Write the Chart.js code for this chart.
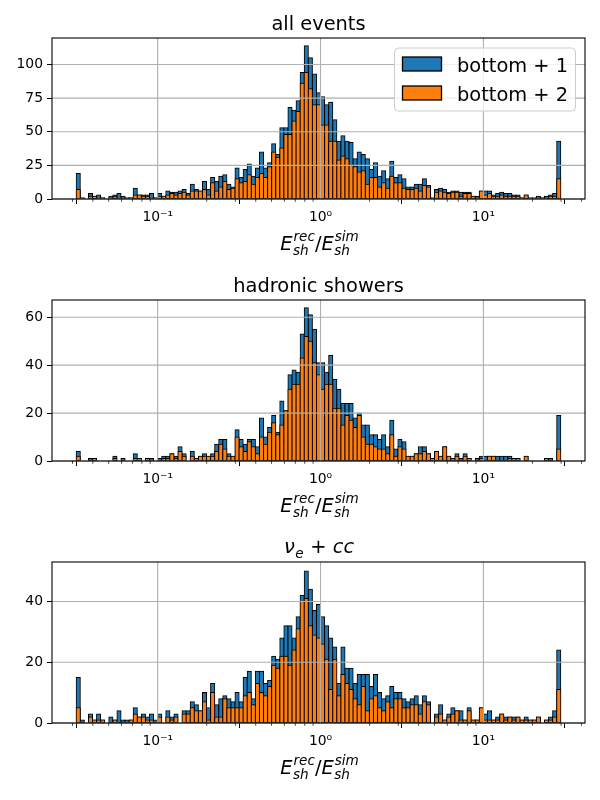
<!DOCTYPE html>
<html lang="en">
<head>
<meta charset="UTF-8">
<title>Shower energy ratio histograms</title>
<script src="https://cdn.jsdelivr.net/npm/chart.js@4.4.0/dist/chart.umd.min.js"></script>
<style>
  body { margin: 0; background: #fff; }
  #wrap { position: relative; width: 600px; height: 800px; }
  canvas { position: absolute; left: 0; }
</style>
</head>
<body>
<div id="wrap">
  <canvas id="allEvents" width="600" height="262" style="top:0"></canvas>
  <canvas id="hadronic" width="600" height="262" style="top:262px"></canvas>
  <canvas id="nueCC" width="600" height="262" style="top:524px"></canvas>
</div>
<script>
// binning of the histograms: log10 bin edges start at -1.5, step 0.025 (119 bins)
const logStart = -1.5;
const logStep = 0.025;
const seriesNames = ['bottom + 1', 'bottom + 2'];
const xTickValues = [-1, 0, 1];          // log10 of 0.1, 1, 10
const xTickLabels = ['10\u207B\u00B9', '10\u2070', '10\u00B9'];

// "all events"
const allBottom1 = [19,1,0,4,2,3,1,0,2,3, 4,2,1,1,8,3,3,3,4,1, 4,2,6,5,5,6,7,4,11,7,
  6,13,7,16,13,17,18,11,9,23, 16,22,26,17,23,35,23,27,41,33, 53,53,68,66,73,94,114,105,93,79,
  76,70,72,59,43,47,43,42,30,35, 33,30,22,27,17,21,15,28,16,18, 15,9,9,11,11,15,10,1,7,8,
  7,5,6,6,5,5,5,2,2,6, 6,6,3,4,5,4,4,3,3,1, 3,1,1,2,1,2,3,4,43];
const allBottom2 = [7,0,0,2,2,1,1,0,1,2, 1,1,0,1,3,3,2,2,1,1, 2,2,3,4,3,4,5,3,6,6,
  6,7,3,12,6,9,13,7,8,15, 12,13,18,11,16,19,16,24,35,31, 38,48,48,58,65,86,94,82,70,70,
  55,55,43,43,29,32,30,25,24,20, 21,11,16,16,9,12,8,17,12,12, 8,7,7,8,6,10,9,0,5,6,
  5,4,5,5,2,4,4,2,1,6, 3,4,2,2,3,2,2,2,2,1, 3,0,0,1,1,1,2,2,15];

// "hadronic showers"
const hadronicBottom1 = [4,0,0,1,1,0,0,0,0,2, 0,1,0,0,3,1,0,1,1,0, 1,2,2,3,2,6,3,0,4,1,
  2,3,2,3,7,9,9,3,2,13, 9,7,9,9,6,18,10,14,19,12, 25,21,36,38,37,53,64,61,55,41,
  41,37,44,34,30,24,24,24,18,20, 15,15,11,11,9,11,6,17,5,9, 8,2,2,3,6,6,3,1,4,2,
  6,2,1,3,1,3,1,0,1,2, 2,2,2,2,2,2,2,1,1,0, 2,0,0,0,0,1,1,0,19];
const hadronicBottom2 = [2,0,0,0,1,0,0,0,0,1, 0,0,0,0,1,1,0,1,0,0, 0,1,1,3,1,4,2,0,2,1,
  2,2,2,2,4,7,5,2,2,10, 6,4,8,6,3,10,7,12,16,11, 15,21,30,32,32,43,52,50,41,36,
  30,32,32,22,22,15,19,17,14,19, 10,7,7,6,5,5,3,11,2,6, 5,2,2,3,3,4,3,1,4,2,
  6,2,1,2,0,2,1,0,0,1, 0,2,2,0,0,0,1,1,1,0, 2,0,0,0,0,1,0,0,5];

// "nu_e + cc"
const nueBottom1 = [15,1,0,3,1,3,1,0,2,1, 4,1,1,1,5,2,3,2,3,1, 3,0,4,2,3,0,4,4,7,6,
  4,10,5,13,6,8,9,8,7,10, 7,15,17,8,17,17,13,14,22,21, 28,32,32,28,35,42,50,44,37,39,
  35,32,28,25,13,25,18,18,13,16, 16,16,12,16,10,8,9,12,10,10, 8,7,8,9,6,9,7,0,3,6,
  1,3,5,4,4,1,5,1,1,5, 3,4,1,2,3,2,2,2,2,1, 2,1,1,2,0,1,2,4,24];
const nueBottom2 = [5,0,0,2,1,1,1,0,0,1, 0,0,0,1,3,2,2,1,1,0, 2,0,2,1,2,0,3,3,5,4,
  4,7,1,10,2,2,8,5,5,5, 5,9,10,6,13,10,9,12,19,18, 22,22,19,24,31,40,41,32,29,28,
  26,21,11,21,9,16,13,11,8,6, 12,4,8,9,5,4,7,5,8,8, 5,5,6,6,3,7,6,0,2,3,
  1,2,3,4,1,1,4,1,1,5, 1,1,1,1,3,1,2,1,2,1, 1,1,1,2,0,1,1,2,11];

const binCenters = allBottom1.map((_, i) => logStart + logStep * (i + 0.5));

const FONT = "'DejaVu Sans', sans-serif";
Chart.defaults.font.family = FONT;
Chart.defaults.color = '#000';

// draws a small piece of matplotlib-like math text centred on cx
function drawMath(ctx, pieces, cx, base, size) {
  const small = size * 0.7;
  const fontOf = (s, it) => (it ? 'italic ' : '') + s + 'px ' + FONT;
  const widths = pieces.map(p => {
    ctx.font = fontOf(size, p.italic);
    const w = ctx.measureText(p.t).width;
    ctx.font = fontOf(small, true);
    const ws = Math.max(p.sub ? ctx.measureText(p.sub).width : 0,
                        p.sup ? ctx.measureText(p.sup).width : 0);
    return [w, ws];
  });
  let xx = cx - widths.reduce((s, w) => s + w[0] + w[1], 0) / 2;
  ctx.fillStyle = '#000';
  ctx.textAlign = 'left';
  ctx.textBaseline = 'alphabetic';
  pieces.forEach((p, i) => {
    ctx.font = fontOf(size, p.italic);
    ctx.fillText(p.t, xx, base);
    xx += widths[i][0];
    ctx.font = fontOf(small, true);
    if (p.sub) ctx.fillText(p.sub, xx + 0.5, base + size * 0.25);
    if (p.sup) ctx.fillText(p.sup, xx + 1, base - size * 0.45);
    xx += widths[i][1] + (widths[i][1] ? 1 : 0);
  });
}

const xLabel = [
  { t: 'E', italic: true, sub: 'sh', sup: 'rec' },
  { t: '/', italic: false },
  { t: 'E', italic: true, sub: 'sh', sup: 'sim' }
];

const mplDecor = {
  id: 'mplDecor',
  afterDatasetsDraw(chart, args, opts) {
    const { ctx, chartArea: a, scales: { x, y } } = chart;
    ctx.save();

    // grid lines sit above the bars like in matplotlib
    ctx.strokeStyle = '#b0b0b0';
    ctx.lineWidth = 1.1;
    ctx.beginPath();
    xTickValues.forEach(v => {
      const px = x.getPixelForValue(v);
      ctx.moveTo(px, a.top); ctx.lineTo(px, a.bottom);
    });
    opts.yTicks.forEach(v => {
      const py = y.getPixelForValue(v);
      ctx.moveTo(a.left, py); ctx.lineTo(a.right, py);
    });
    ctx.stroke();

    // minor ticks of the log axis
    ctx.strokeStyle = '#000';
    ctx.lineWidth = 0.7;
    ctx.beginPath();
    for (let n = -2; n <= 1; n++) {
      for (let k = 2; k <= 9; k++) {
        const v = n + Math.log10(k);
        if (v < x.min || v > x.max) continue;
        const px = x.getPixelForValue(v);
        ctx.moveTo(px, a.bottom); ctx.lineTo(px, a.bottom + 2.8);
      }
    }
    ctx.stroke();

    // spines
    ctx.lineWidth = 1.1;
    ctx.strokeRect(a.left, a.top, a.right - a.left, a.bottom - a.top);

    // title
    const cx = (a.left + a.right) / 2;
    if (opts.titleMath) {
      drawMath(ctx, opts.titleMath, cx, a.top - 9, 19.4);
    } else {
      ctx.font = '19.4px ' + FONT;
      ctx.fillStyle = '#000';
      ctx.textAlign = 'center';
      ctx.textBaseline = 'alphabetic';
      ctx.fillText(opts.title, cx, a.top - 8.5);
    }

    // x label
    drawMath(ctx, xLabel, cx, a.bottom + 51, 19.4);

    // legend
    if (opts.legend) {
      const lx = 394.5, ly = 48, lw = 181, lh = 63;
      ctx.beginPath();
      ctx.roundRect(lx, ly, lw, lh, 4);
      ctx.fillStyle = 'rgba(255,255,255,0.8)';
      ctx.fill();
      ctx.strokeStyle = '#cccccc';
      ctx.lineWidth = 1;
      ctx.stroke();
      chart.data.datasets.forEach((ds, i) => {
        const py = 57 + i * 29;
        ctx.fillStyle = ds.backgroundColor;
        ctx.fillRect(402.5, py, 39, 14);
        ctx.strokeStyle = '#000';
        ctx.lineWidth = 1.3;
        ctx.strokeRect(402.5, py, 39, 14);
        ctx.fillStyle = '#000';
        ctx.font = '19.4px ' + FONT;
        ctx.textAlign = 'left';
        ctx.textBaseline = 'alphabetic';
        ctx.fillText(ds.label, 457, py + 14.5);
      });
    }
    ctx.restore();
  }
};

function makePanel(id, bottom1, bottom2, yMax, yTicks, decor) {
  const bar = {
    borderColor: '#000',
    borderWidth: 1,
    borderSkipped: false,
    inflateAmount: 0.5,
    grouped: false,
    barPercentage: 1,
    categoryPercentage: 1
  };
  return new Chart(document.getElementById(id), {
    type: 'bar',
    data: {
      datasets: [
        Object.assign({ label: seriesNames[0], backgroundColor: '#1f77b4', order: 1,
          data: bottom1.map((v, i) => ({ x: binCenters[i], y: v })) }, bar),
        Object.assign({ label: seriesNames[1], backgroundColor: '#ff7f0e', order: 0,
          data: bottom2.map((v, i) => ({ x: binCenters[i], y: v })) }, bar)
      ]
    },
    options: {
      responsive: false,
      animation: false,
      layout: { padding: { top: 38, right: 15, left: 0, bottom: 0 } },
      plugins: {
        legend: { display: false },
        tooltip: { enabled: false },
        mplDecor: Object.assign({ yTicks: yTicks }, decor)
      },
      scales: {
        x: {
          type: 'linear',
          min: -1.64875,
          max: 1.62375,
          offset: false,
          afterBuildTicks: s => { s.ticks = xTickValues.map(v => ({ value: v })); },
          afterFit: s => { s.height = 63; },
          grid: { drawOnChartArea: false, tickLength: 5, tickColor: '#000', tickWidth: 1 },
          border: { display: false },
          ticks: {
            autoSkip: false, maxRotation: 0, padding: 5, color: '#000',
            font: { size: 13.9 },
            callback: v => xTickLabels[xTickValues.indexOf(v)]
          }
        },
        y: {
          min: 0,
          max: yMax,
          afterBuildTicks: s => { s.ticks = yTicks.map(v => ({ value: v })); },
          afterFit: s => { s.width = 52; },
          grid: { drawOnChartArea: false, tickLength: 5, tickColor: '#000', tickWidth: 1 },
          border: { display: false },
          ticks: { padding: 4, color: '#000', font: { size: 13.9 } }
        }
      }
    },
    plugins: [mplDecor]
  });
}

makePanel('allEvents', allBottom1, allBottom2, 119.7, [0, 25, 50, 75, 100],
  { title: 'all events', legend: true });
makePanel('hadronic', hadronicBottom1, hadronicBottom2, 67.2, [0, 20, 40, 60],
  { title: 'hadronic showers' });
makePanel('nueCC', nueBottom1, nueBottom2, 53, [0, 20, 40],
  { titleMath: [{ t: '\u03BD', italic: true, sub: 'e' }, { t: ' + ', italic: false }, { t: 'cc', italic: true }] });
</script>
</body>
</html>
